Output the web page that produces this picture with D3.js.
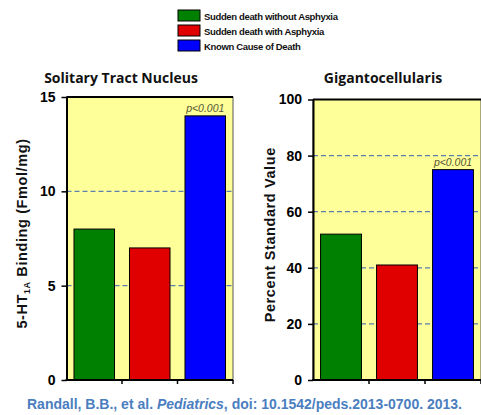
<!DOCTYPE html>
<html>
<head>
<meta charset="utf-8">
<script src="https://cdn.jsdelivr.net/npm/d3@7"></script>
<style>
  body { margin: 0; background: #fff; }
  svg { display: block; }
</style>
</head>
<body>
<svg id="chart" width="481" height="415"></svg>
<script>
// data
const groups = ["Sudden death without Asphyxia", "Sudden death with Asphyxia", "Known Cause of Death"];
const groupColors = ["#008000", "#e00000", "#0000ff"];
const stnValues = [8, 7, 14];
const gigValues = [52, 41, 75];
const stnTicks = [0, 5, 10, 15];
const gigTicks = [0, 20, 40, 60, 80, 100];

const svg = d3.select("#chart");

// legend
const legend = svg.append("g").attr("transform", "translate(178,10)");
groups.forEach((g, i) => {
	legend.append("rect")
		.attr("x", 0).attr("y", i * 15)
		.attr("width", 22).attr("height", 11)
		.attr("fill", groupColors[i])
		.attr("stroke", "#000").attr("stroke-width", 1);
	legend.append("text")
		.attr("x", 26).attr("y", i * 15 + 9.5)
		.attr("font-family", "Liberation Sans, Arial, sans-serif")
		.attr("font-weight", "bold")
		.attr("font-size", 9.5)
		.attr("letter-spacing", -0.35)
		.attr("fill", "#111")
		.text(g);
});

const drawPanel = (opts) => {
	const {left, right, top, bottom, max, ticks, values, title, titleX, labelX, yLabel, pY} = opts;

	const x = d3.scaleBand().domain(groups).range([left, right]).paddingInner(0.27).paddingOuter(0.135);
	const xb = d3.scaleBand().domain(groups).range([left, right]);
	const y = d3.scaleLinear().domain([0, max]).range([bottom, top]);

	const g = svg.append("g");

	// background
	g.append("rect")
		.attr("x", left).attr("y", top)
		.attr("width", right - left).attr("height", bottom - top)
		.attr("fill", "#ffff99")
		.attr("stroke", "#555").attr("stroke-width", 1);

	// grid lines
	g.selectAll(".grid")
		.data(ticks.filter(t => t > 0 && t < max))
		.enter().append("line")
		.attr("x1", left).attr("x2", right)
		.attr("y1", d => y(d)).attr("y2", d => y(d))
		.attr("stroke", "#5b80b0")
		.attr("stroke-width", 1.3)
		.attr("stroke-dasharray", "5,3");

	// top border
	g.append("line")
		.attr("x1", left).attr("x2", right)
		.attr("y1", y(max)).attr("y2", y(max))
		.attr("stroke", "#000").attr("stroke-width", 2);

	// bars
	g.selectAll(".bar")
		.data(values)
		.enter().append("rect")
		.attr("x", (d, i) => x(groups[i]))
		.attr("y", d => y(d))
		.attr("width", x.bandwidth())
		.attr("height", d => y(0) - y(d))
		.attr("fill", (d, i) => groupColors[i])
		.attr("stroke", "#000").attr("stroke-width", 1);

	// y axis
	const yAxis = g.append("g")
		.attr("transform", "translate(" + left + ",0)")
		.call(d3.axisLeft(y).tickValues(ticks).tickSize(5).tickSizeOuter(0).tickPadding(6));
	yAxis.select(".domain").attr("stroke", "#000").attr("stroke-width", 2);
	yAxis.selectAll(".tick line").attr("stroke", "#000").attr("stroke-width", 1.5);
	yAxis.selectAll(".tick text")
		.attr("font-family", "Liberation Sans, Arial, sans-serif")
		.attr("font-weight", "bold")
		.attr("font-size", 14)
		.attr("fill", "#000");

	// x axis: ticks at category boundaries
	g.append("line")
		.attr("x1", left - 1).attr("x2", right)
		.attr("y1", bottom).attr("y2", bottom)
		.attr("stroke", "#000").attr("stroke-width", 2);
	const bounds = groups.map(c => xb(c)).slice(1).concat([right]);
	g.selectAll(".xt")
		.data(bounds)
		.enter().append("line")
		.attr("x1", d => d).attr("x2", d => d)
		.attr("y1", bottom).attr("y2", bottom + 4)
		.attr("stroke", "#000").attr("stroke-width", 1.5);

	// p-value
	g.append("text")
		.attr("x", x(groups[2]) + x.bandwidth() / 2)
		.attr("y", y(values[2]) - pY)
		.attr("text-anchor", "middle")
		.attr("font-family", "Liberation Sans, Arial, sans-serif")
		.attr("font-style", "italic")
		.attr("font-size", 10.5)
		.attr("fill", "#555533")
		.text("p<0.001");

	// title
	g.append("text")
		.attr("x", titleX).attr("y", 83)
		.attr("text-anchor", "middle")
		.attr("font-family", "Open Sans, sans-serif")
		.attr("font-weight", "bold")
		.attr("font-size", 14)
		.attr("fill", "#111")
		.text(title);

	// y label
	const yl = g.append("text")
		.attr("transform", "translate(" + labelX + "," + ((top + bottom) / 2 - 5) + ") rotate(-90)")
		.attr("text-anchor", "middle")
		.attr("font-family", "Liberation Sans, Arial, sans-serif")
		.attr("font-weight", "bold")
		.attr("font-size", 14.5)
		.attr("letter-spacing", 0.6)
		.attr("fill", "#111");
	yLabel(yl);
};

drawPanel({
	left: 66.5, right: 233, top: 97, bottom: 380, max: 15,
	ticks: stnTicks, values: stnValues,
	title: "Solitary Tract Nucleus", titleX: 121, labelX: 27, pY: 4,
	yLabel: t => {
		t.append("tspan").text("5-HT");
		t.append("tspan").attr("font-size", 9).attr("dy", 3).text("1A");
		t.append("tspan").attr("dy", -3).text(" Binding (Fmol/mg)");
	}
});

drawPanel({
	left: 313, right: 481, top: 99.5, bottom: 380, max: 100,
	ticks: gigTicks, values: gigValues,
	title: "Gigantocellularis", titleX: 383, labelX: 275, pY: 4,
	yLabel: t => t.text("Percent Standard Value")
});

// citation
const cite = svg.append("text")
	.attr("x", 27).attr("y", 409)
	.attr("font-family", "Liberation Sans, Arial, sans-serif")
	.attr("font-weight", "bold")
	.attr("font-size", 14)
	.attr("fill", "#4a7ebf");
cite.append("tspan").text("Randall, B.B., et al.  ");
cite.append("tspan").attr("font-style", "italic").text("Pediatrics");
cite.append("tspan").text(", doi: 10.1542/peds.2013-0700. 2013.");
</script>
</body>
</html>
